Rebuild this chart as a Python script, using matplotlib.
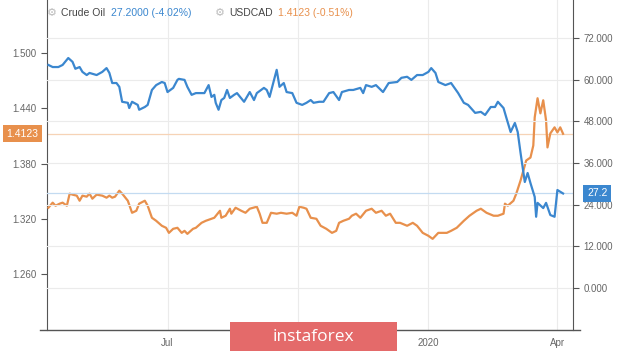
import matplotlib
matplotlib.use("Agg")
import matplotlib.pyplot as plt
import matplotlib.ticker as mticker
import matplotlib.transforms as mtrans
from matplotlib.patches import Rectangle
from matplotlib.lines import Line2D
import pandas as pd

plt.rcParams["font.family"] = ["Liberation Sans", "DejaVu Sans"]

BLUE = "#3b87cf"
ORANGE = "#e8904c"
GRID = "#ebebeb"
SPINE = "#555555"
TICK_TXT = "#666666"

# ---------------------------------------------------------------------------
# Data
# ---------------------------------------------------------------------------

oil_dates = [
    "2019-04-08", "2019-04-11", "2019-04-15", "2019-04-18", "2019-04-22", "2019-04-25",
    "2019-04-27", "2019-04-30", "2019-05-02", "2019-05-05", "2019-05-07", "2019-05-12",
    "2019-05-16", "2019-05-19", "2019-05-21", "2019-05-23", "2019-05-26", "2019-05-28",
    "2019-05-30", "2019-06-03", "2019-06-04", "2019-06-06", "2019-06-10", "2019-06-11",
    "2019-06-15", "2019-06-17", "2019-06-20", "2019-06-23", "2019-06-27", "2019-06-29",
    "2019-07-01", "2019-07-05", "2019-07-08", "2019-07-09", "2019-07-13", "2019-07-15",
    "2019-07-18", "2019-07-21", "2019-07-27", "2019-07-30", "2019-08-01", "2019-08-03",
    "2019-08-04", "2019-08-06", "2019-08-08", "2019-08-10", "2019-08-12", "2019-08-14",
    "2019-08-17", "2019-08-19", "2019-08-24", "2019-08-28", "2019-08-31", "2019-09-02",
    "2019-09-07", "2019-09-09", "2019-09-11", "2019-09-16", "2019-09-18", "2019-09-21",
    "2019-09-23", "2019-09-27", "2019-09-30", "2019-10-04", "2019-10-07", "2019-10-10",
    "2019-10-12", "2019-10-16", "2019-10-19", "2019-10-23", "2019-10-26", "2019-10-30",
    "2019-11-01", "2019-11-06", "2019-11-09", "2019-11-14", "2019-11-16", "2019-11-18",
    "2019-11-22", "2019-11-25", "2019-11-30", "2019-12-04", "2019-12-10", "2019-12-13",
    "2019-12-17", "2019-12-20", "2019-12-24", "2019-12-28", "2020-01-01", "2020-01-03",
    "2020-01-06", "2020-01-08", "2020-01-13", "2020-01-17", "2020-01-22", "2020-01-26",
    "2020-01-29", "2020-02-03", "2020-02-07", "2020-02-10", "2020-02-14", "2020-02-17",
    "2020-02-19", "2020-02-23", "2020-02-25", "2020-02-28", "2020-03-02", "2020-03-04",
    "2020-03-06", "2020-03-09", "2020-03-11", "2020-03-13", "2020-03-16", "2020-03-17",
    "2020-03-18", "2020-03-22", "2020-03-24", "2020-03-27", "2020-03-30", "2020-04-01",
    "2020-04-03", "2020-04-05",
]
oil_values = [
    64.2, 63.6, 63.6, 64.2, 66.2, 65.1,
    63.1, 63.6, 62.2, 61.3, 61.9, 61.3,
    62.2, 63.3, 61.9, 59.0, 59.0, 57.9,
    53.6, 53.3, 51.8, 53.6, 52.7, 51.3,
    52.1, 52.7, 57.0, 58.4, 59.3, 59.0,
    56.4, 57.6, 59.9, 60.2, 59.9, 57.9,
    55.6, 56.1, 56.1, 58.4, 55.0, 55.6,
    53.3, 51.3, 54.1, 54.7, 57.0, 54.7,
    55.6, 56.1, 53.6, 56.4, 54.1, 56.1,
    57.6, 57.0, 55.0, 62.8, 57.9, 59.0,
    56.4, 56.1, 53.3, 52.7, 53.3, 54.1,
    53.3, 53.6, 53.6, 56.1, 56.4, 54.1,
    56.4, 57.0, 57.0, 57.6, 56.1, 58.4,
    57.9, 58.4, 56.4, 59.0, 59.3, 60.5,
    60.8, 59.9, 61.3, 61.3, 62.2, 63.3,
    61.9, 59.3, 58.4, 59.0, 56.1, 53.3,
    52.7, 50.4, 50.7, 49.8, 52.1, 52.1,
    53.6, 51.8, 49.0, 44.9, 47.5, 44.9,
    38.9, 30.5, 33.1, 30.2, 26.2, 20.5,
    24.5, 23.0, 24.5, 21.0, 20.5, 28.2,
    27.7, 27.2,
]

cad_dates = [
    "2019-04-08", "2019-04-11", "2019-04-13", "2019-04-16", "2019-04-18", "2019-04-21",
    "2019-04-23", "2019-04-25", "2019-04-28", "2019-04-30", "2019-05-02", "2019-05-05",
    "2019-05-07", "2019-05-09", "2019-05-12", "2019-05-16", "2019-05-19", "2019-05-21",
    "2019-05-23", "2019-05-25", "2019-05-28", "2019-05-30", "2019-06-03", "2019-06-06",
    "2019-06-09", "2019-06-11", "2019-06-15", "2019-06-17", "2019-06-20", "2019-06-23",
    "2019-06-27", "2019-06-30", "2019-07-02", "2019-07-05", "2019-07-08", "2019-07-11",
    "2019-07-13", "2019-07-15", "2019-07-19", "2019-07-21", "2019-07-25", "2019-07-28",
    "2019-08-01", "2019-08-03", "2019-08-07", "2019-08-08", "2019-08-11", "2019-08-14",
    "2019-08-15", "2019-08-18", "2019-08-22", "2019-08-25", "2019-08-28", "2019-09-02",
    "2019-09-04", "2019-09-06", "2019-09-09", "2019-09-12", "2019-09-16", "2019-09-19",
    "2019-09-23", "2019-09-27", "2019-09-30", "2019-10-02", "2019-10-05", "2019-10-07",
    "2019-10-10", "2019-10-14", "2019-10-17", "2019-10-21", "2019-10-25", "2019-10-28",
    "2019-10-30", "2019-11-02", "2019-11-06", "2019-11-08", "2019-11-11", "2019-11-14",
    "2019-11-18", "2019-11-22", "2019-11-25", "2019-11-29", "2019-12-02", "2019-12-05",
    "2019-12-09", "2019-12-12", "2019-12-17", "2019-12-21", "2019-12-24", "2019-12-28",
    "2020-01-01", "2020-01-04", "2020-01-08", "2020-01-14", "2020-01-17", "2020-01-21",
    "2020-01-26", "2020-01-30", "2020-02-04", "2020-02-07", "2020-02-11", "2020-02-16",
    "2020-02-19", "2020-02-23", "2020-02-24", "2020-02-26", "2020-03-01", "2020-03-03",
    "2020-03-06", "2020-03-10", "2020-03-13", "2020-03-15", "2020-03-16", "2020-03-18",
    "2020-03-20", "2020-03-22", "2020-03-24", "2020-03-25", "2020-03-27", "2020-03-30",
    "2020-04-01", "2020-04-03", "2020-04-05",
]
cad_values = [
    1.3320, 1.3375, 1.3342, 1.3364, 1.3375, 1.3342,
    1.3473, 1.3462, 1.3451, 1.3396, 1.3451, 1.3440,
    1.3473, 1.3418, 1.3462, 1.3451, 1.3429, 1.3451,
    1.3429, 1.3440, 1.3505, 1.3473, 1.3396, 1.3265,
    1.3287, 1.3364, 1.3396, 1.3342, 1.3211, 1.3178,
    1.3124, 1.3102, 1.3047, 1.3091, 1.3102, 1.3047,
    1.3069, 1.3036, 1.3091, 1.3102, 1.3156, 1.3178,
    1.3200, 1.3211, 1.3287, 1.3211, 1.3233, 1.3309,
    1.3255, 1.3320, 1.3287, 1.3265, 1.3309, 1.3331,
    1.3255, 1.3156, 1.3156, 1.3265, 1.3255, 1.3265,
    1.3255, 1.3265, 1.3233, 1.3331, 1.3320, 1.3309,
    1.3211, 1.3200, 1.3124, 1.3091, 1.3047, 1.3069,
    1.3156, 1.3178, 1.3200, 1.3233, 1.3255, 1.3211,
    1.3287, 1.3309, 1.3265, 1.3287, 1.3233, 1.3255,
    1.3156, 1.3156, 1.3124, 1.3156, 1.3124, 1.3047,
    1.3015, 1.2982, 1.3047, 1.3047, 1.3069, 1.3102,
    1.3178, 1.3233, 1.3287, 1.3309, 1.3265, 1.3233,
    1.3233, 1.3255, 1.3364, 1.3342, 1.3396, 1.3473,
    1.3615, 1.3833, 1.3865, 1.3996, 1.4302, 1.4509,
    1.4345, 1.4487, 1.4269, 1.3975, 1.4127, 1.4193,
    1.4138, 1.4193, 1.4123,
]

oil_last, oil_chg = 27.2, -4.02
cad_last, cad_chg = 1.4123, -0.51

cad_ticks = [1.26, 1.32, 1.38, 1.44, 1.50]
oil_ticks = [0, 12, 24, 36, 48, 60, 72]
grid_dates = ["2019-07-01", "2019-10-01", "2020-01-01", "2020-04-01"]
x_ticks = ["2019-07-01", "2020-01-01", "2020-04-01"]
x_labels = ["Jul", "2020", "Apr"]

oil = pd.Series(oil_values, index=pd.to_datetime(oil_dates))
cad = pd.Series(cad_values, index=pd.to_datetime(cad_dates))

# ---------------------------------------------------------------------------
# Figure
# ---------------------------------------------------------------------------

fig = plt.figure(figsize=(6.2, 3.51), dpi=100)
ax = fig.add_axes([47 / 620, 21 / 351, 526 / 620, 330 / 351])
ax2 = ax.twinx()

ax.set_ylim(1.1992, 1.5576)
ax2.set_ylim(-12.1, 82.9)
ax.set_xlim(pd.Timestamp("2019-04-07"), pd.Timestamp("2020-04-12"))

# grid: vertical at the quarters, horizontal from the oil scale
for d in grid_dates:
    ax.axvline(pd.Timestamp(d), color=GRID, lw=0.8, zorder=0)
for t in oil_ticks:
    ax2.axhline(t, color=GRID, lw=0.8, zorder=0)

# last-price guide lines
ax.axhline(cad_last, color="#f6d3b6", lw=0.9, zorder=1)
ax2.axhline(oil_last, color="#c3dbf1", lw=0.9, zorder=1)

ax.plot(cad.index, cad.values, color=ORANGE, lw=1.6, zorder=3, solid_joinstyle="round")
ax2.plot(oil.index, oil.values, color=BLUE, lw=1.6, zorder=3, solid_joinstyle="round")

ax.set_yticks(cad_ticks)
ax.yaxis.set_major_formatter(mticker.FormatStrFormatter("%.3f"))
ax2.set_yticks(oil_ticks)
ax2.yaxis.set_major_formatter(mticker.FormatStrFormatter("%.3f"))
ax.set_xticks(pd.to_datetime(x_ticks))
ax.set_xticklabels(x_labels)

for a in (ax, ax2):
    for s in ("top", "bottom", "left", "right"):
        a.spines[s].set_visible(False)
    a.tick_params(colors=SPINE, labelcolor=TICK_TXT, labelsize=7, length=4, width=0.8)
ax.tick_params(axis="x", length=0, pad=6)
ax.spines["left"].set_visible(True)
ax.spines["left"].set_color(SPINE)
ax2.spines["right"].set_visible(True)
ax2.spines["right"].set_color(SPINE)

# bottom axis line runs a little past both spines
fig.lines.append(Line2D([40 / 620, 580 / 620], [21 / 351, 21 / 351], transform=fig.transFigure,
                        color=SPINE, lw=1.0))

# last-value badges on the axes
left_tr = mtrans.blended_transform_factory(ax.transAxes, ax.transData)
ax.text(-0.047, cad_last, f"{cad_last:.4f}", transform=left_tr, ha="center", va="center",
        fontsize=7.5, color="white", clip_on=False, zorder=10,
        bbox=dict(boxstyle="square,pad=0.35", fc=ORANGE, ec="none"))
right_tr = mtrans.blended_transform_factory(ax2.transAxes, ax2.transData)
ax2.text(1.046, oil_last, f"{oil_last:g}", transform=right_tr, ha="center", va="center",
         fontsize=7.5, color="white", clip_on=False, zorder=10,
         bbox=dict(boxstyle="square,pad=0.35", fc=BLUE, ec="none"))

# header legend
fy = 1 - 13 / 351
fig.text(52 / 620, fy, "\u2699", fontsize=8, color="#bbbbbb", ha="center", va="center",
         family=["DejaVu Sans"])
fig.text(61 / 620, fy, "Crude Oil", fontsize=7.5, color="#444444", va="center")
fig.text(111 / 620, fy, f"{oil_last:.4f} ({oil_chg:.2f}%)", fontsize=7.5, color=BLUE, va="center")
fig.text(220 / 620, fy, "\u2699", fontsize=8, color="#bbbbbb", ha="center", va="center",
         family=["DejaVu Sans"])
fig.text(229 / 620, fy, "USDCAD", fontsize=7.5, color="#444444", va="center")
fig.text(278 / 620, fy, f"{cad_last:.4f} ({cad_chg:.2f}%)", fontsize=7.5, color=ORANGE, va="center")

# watermark
fig.patches.append(Rectangle((230 / 620, 0), 167 / 620, 29 / 351, transform=fig.transFigure,
                             facecolor="#e46a6a", edgecolor="none", zorder=20))
fig.text(313 / 620, 14 / 351, "instaforex", fontsize=12.5, color="white", ha="center",
         va="center", family=["Open Sans", "DejaVu Sans"], zorder=21)

fig.savefig("out.png", dpi=100, facecolor="white")
